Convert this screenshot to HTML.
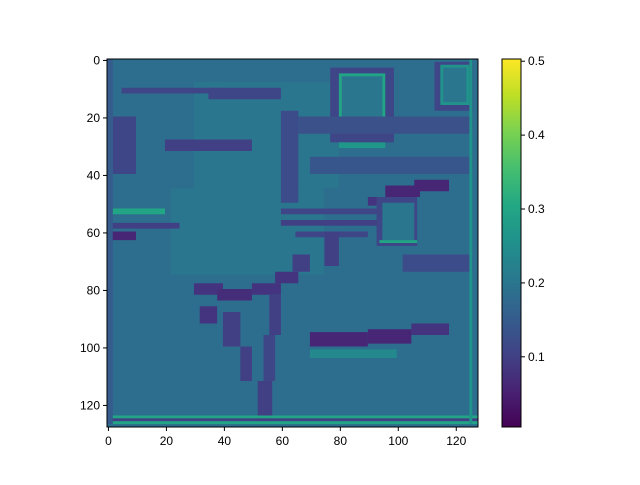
<!DOCTYPE html>
<html><head><meta charset="utf-8"><style>
body{margin:0;background:#fff;font-family:"Liberation Sans",sans-serif}
svg text{font-family:"Liberation Sans",sans-serif;font-size:12px;fill:#000}
</style></head><body>
<svg id="c" width="640" height="480"></svg>
<script>
const xTicks=[0,20,40,60,80,100,120];
const yTicks=[0,20,40,60,80,100,120];
const cbTicks=[0.1,0.2,0.3,0.4,0.5];
const baseValue=0.185;
// features: [x0,y0,x1,y1,value] in data pixel coords
const features=[
[30,8,80,45,0.2],[22,45,75,75,0.2],
[2,20,10,40,0.11],[5,10,40,12,0.11],[35,10,60,14,0.11],[20,28,50,32,0.1],[60,18,66,50,0.12],
[77,3,99,29,0.11],[80,5,96,25,0.3],[81,6,95,24,0.2],[80,29,96,31,0.27],
[113,1,126,18,0.11],[115,2,125,16,0.26],[116,3,124,15,0.2],
[66,20,126,26,0.13],[70,34,126,40,0.14],
[96,44,108,48,0.06],[106,42,118,46,0.06],[90,48,100,51,0.08],
[60,52,98,54,0.11],[60,56,95,58,0.1],[65,60,90,62,0.11],[75,60,80,72,0.1],
[93,48,107,65,0.11],[95,50,106,63,0.2],[94,63,107,64,0.3],
[0,52,20,54,0.3],[0,57,25,59,0.1],[0,60,10,63,0.06],
[102,68,126,74,0.12],
[30,78,40,82,0.08],[38,80,50,84,0.07],[50,78,60,82,0.08],[58,74,66,78,0.08],[64,68,70,74,0.1],
[32,86,38,92,0.08],[40,88,46,100,0.1],[46,100,50,112,0.1],
[56,82,60,96,0.1],[54,96,58,112,0.11],[52,112,57,126,0.1],
[70,95,90,100,0.06],[90,94,105,99,0.06],[105,92,118,96,0.08],[70,101,100,104,0.24],
[0,124,128,125,0.3],[0,125,128,126,0.1],[0,126,128,127,0.3],
[125,0,126,127,0.26],[0,0,2,127,0.15]
];
const vmin=0.005,vmax=0.503;
const L=107,T=59,W=371,H=368;
const sx=d=>L+(d+0.5)*W/128, sy=d=>T+(d+0.5)*H/128;
const cx=d=>L+d*W/128, cy=d=>T+d*H/128;
const vir=[[68,1,84],[72,35,116],[64,67,135],[52,94,141],[41,120,142],[32,144,140],[34,167,132],[68,190,112],[121,209,81],[189,222,38],[253,231,37]];
function col(v){let t=Math.max(0,Math.min(1,(v-vmin)/(vmax-vmin)))*10;let i=Math.min(9,Math.floor(t)),f=t-i;const a=vir[i],b=vir[i+1];return `rgb(${a.map((x,k)=>Math.round(x+(b[k]-x)*f)).join(',')})`;}
const svg=document.getElementById('c');const NS='http://www.w3.org/2000/svg';
function mk(tag,attrs,parent){const e=document.createElementNS(NS,tag);for(const k in attrs)e.setAttribute(k,attrs[k]);(parent||svg).appendChild(e);return e;}
const bg=mk('rect',{x:L,y:T,width:W,height:H,fill:col(baseValue)});


features.forEach(f=>{const r=mk('rect',{x:cx(f[0]),y:cy(f[1]),width:cx(f[2])-cx(f[0]),height:cy(f[3])-cy(f[1]),fill:col(f[4])});

});
const fr=mk('rect',{x:L,y:T,width:W,height:H,fill:'none',stroke:'#000','stroke-width':1});


xTicks.forEach(t=>{const x=sx(t);mk('line',{x1:x,x2:x,y1:T+H,y2:T+H+4,stroke:'#000'});const tx=mk('text',{x:x,y:T+H+18,'text-anchor':'middle'});tx.textContent=t;

});
yTicks.forEach(t=>{const y=sy(t);mk('line',{x1:L-4,x2:L,y1:y,y2:y,stroke:'#000'});const tx=mk('text',{x:L-7,y:y+4,'text-anchor':'end'});tx.textContent=t;

});
const CL=502,CW=19;
const g=mk('defs',{});const lg=mk('linearGradient',{id:'vg',x1:0,y1:1,x2:0,y2:0},g);
vir.forEach((c,i)=>mk('stop',{offset:i/10,'stop-color':`rgb(${c.join(',')})`},lg));
const cb=mk('rect',{x:CL,y:T,width:CW,height:H,fill:'url(#vg)',stroke:'#000'});


cbTicks.forEach(t=>{const y=T+H-(t-vmin)/(vmax-vmin)*H;mk('line',{x1:CL+CW,x2:CL+CW+4,y1:y,y2:y,stroke:'#000'});const tx=mk('text',{x:CL+CW+7,y:y+4});tx.textContent=t.toFixed(1);

});
</script>
</body></html>
